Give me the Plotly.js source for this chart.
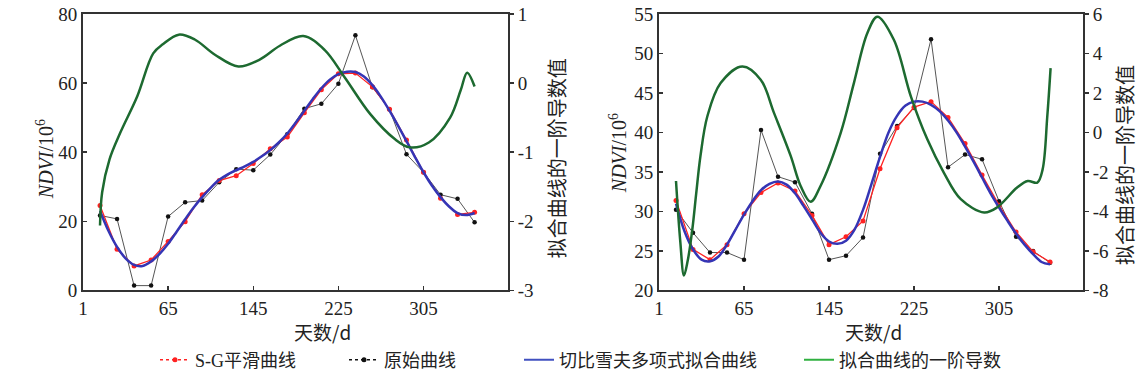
<!DOCTYPE html>
<html><head><meta charset="utf-8">
<script src="https://cdn.plot.ly/plotly-3.0.1.min.js"></script>
<style>html,body{margin:0;padding:0;background:#fff}#chart{width:1147px;height:379px}</style>
</head><body><div id="chart"></div>
<script>
// ---------- data: left panel ----------
const daysObs = [1,17,33,49,65,81,97,113,129,145,161,177,193,209,225,241,257,273,289,305,321,337,353];
const leftRaw = [21.7,20.7,1.4,1.4,21.4,25.5,26.0,31.3,35.1,34.8,39.3,45.2,52.6,54.0,59.8,73.8,58.8,52.4,39.4,34.2,27.7,26.5,19.7];
const leftSG  = [24.6,11.9,7.1,8.8,14.2,19.9,27.7,31.8,33.2,36.7,41.0,44.4,51.4,58.1,62.7,62.9,58.9,52.4,43.5,34.2,26.7,22.0,22.6];
const daysFit = [1,9,17,25,33,41,49,57,65,73,81,89,97,105,113,121,129,137,145,153,161,169,177,185,193,201,209,217,225,233,241,249,257,265,273,281,289,297,305,313,321,329,337,345,353];
const leftFit = [23.0,17.2,12.6,9.3,7.4,7.1,8.4,10.6,13.5,17.0,20.6,24.0,27.0,29.7,32.0,33.6,34.8,35.9,37.2,38.8,40.6,42.8,45.4,48.6,52.0,55.4,58.5,61.0,62.6,63.3,63.2,61.9,59.4,56.0,52.0,47.7,43.2,38.6,34.2,30.3,27.0,24.3,22.4,21.8,22.4];
const leftDerivDays = [1,3,10,20,36,51,60,75,90,109,131,151,170,192,212,231,255,278,292,310,330,340,346,353];
const leftDeriv = [-2.06,-1.58,-1.10,-0.72,-0.19,0.43,0.56,0.70,0.63,0.41,0.24,0.34,0.54,0.68,0.48,0.08,-0.45,-0.81,-0.93,-0.86,-0.50,-0.10,0.15,-0.05];

// ---------- data: right panel ----------
const rightRaw = [30.2,27.3,24.8,24.8,23.9,40.3,34.4,33.7,29.7,23.9,24.4,26.7,37.3,40.8,43.1,51.8,35.6,37.2,36.6,31.3,26.8,25.0,23.5];
const rightSG  = [31.4,25.2,23.9,25.8,29.7,32.4,33.6,32.6,29.5,25.8,26.8,28.8,35.4,40.6,43.2,43.9,41.9,38.6,34.6,30.8,27.4,24.9,23.6];
const rightFit = [31.0,27.5,25.2,23.9,23.7,24.3,25.8,27.7,29.6,31.3,32.7,33.5,33.8,33.4,32.3,30.7,29.0,27.3,26.2,25.9,26.3,27.7,30.2,33.5,36.9,40.0,42.1,43.4,43.9,43.9,43.5,42.7,41.5,40.0,38.2,36.3,34.3,32.3,30.5,28.8,27.2,25.8,24.6,23.6,23.3];
const rightDerivDays = [1,5,8.5,12,16.4,20,24,30.5,43,63.5,80.7,93.2,109,118.3,127.7,137,156,168.4,181,190.5,206,222,237.5,253,269,291,303,322,332,341,346,350.4,353.5];
const rightDeriv = [-2.46,-5.5,-7.24,-6.5,-4.89,-3.1,-1.2,0.82,2.50,3.34,2.67,0.99,-1.20,-2.71,-3.51,-2.71,-0.02,2.50,5.02,5.86,4.69,1.83,-0.35,-2.03,-3.38,-4.05,-3.80,-2.79,-2.46,-2.54,-1.87,0.82,3.26];

// ---------- ticks / labels ----------
const xTickVals = [-15,65,145,225,305];
const xTickText = ['1','65','145','225','305'];
const y2TickVals = [-3,-2,-1,0,1];
const y2TickText = ['-3','-2','-1','0','1'];
const y4TickVals = [-8,-6,-4,-2,0,2,4,6];
const y4TickText = ['-8','-6','-4','-2','0','2','4','6'];
const seriesNames = ['S-G平滑曲线','原始曲线','切比雪夫多项式拟合曲线','拟合曲线的一阶导数'];
const xTitle = '天数/d';
const yTitle = '<i>NDVI</i>/10<sup>6</sup>';
const y2Title = '拟合曲线的一阶导数值';

const RED='#ff2222', BLK='#111', BLUE='#3535b5', GREEN='#1d6a30';

function panel(xa, ya, ya2, raw, sg, fit, dd, dv){
  return [
    {x:dd, y:dv, xaxis:xa, yaxis:ya2, mode:'lines', line:{color:GREEN,width:2.5,shape:'spline'}, showlegend:false, hoverinfo:'skip'},
    {x:daysObs, y:raw, xaxis:xa, yaxis:ya, mode:'lines+markers', line:{color:'#555',width:1}, marker:{color:BLK,size:4.5}, showlegend:false},
    {x:daysObs, y:sg, xaxis:xa, yaxis:ya, mode:'lines+markers', line:{color:RED,width:1.3}, marker:{color:RED,size:5}, showlegend:false},
    {x:daysFit, y:fit, xaxis:xa, yaxis:ya, mode:'lines', line:{color:BLUE,width:2.5,shape:'spline'}, showlegend:false}
  ];
}
const traces = [].concat(
  panel('x','y','y2',leftRaw,leftSG,leftFit,leftDerivDays,leftDeriv),
  panel('x2','y3','y4',rightRaw,rightSG,rightFit,rightDerivDays,rightDeriv),
  [
    {x:[null],y:[null],name:seriesNames[0],mode:'lines+markers',line:{color:RED,width:1.5,dash:'dot'},marker:{color:RED,size:5},legend:'legend'},
    {x:[null],y:[null],name:seriesNames[1],mode:'lines+markers',line:{color:BLK,width:1.5,dash:'dot'},marker:{color:BLK,size:5},legend:'legend2'},
    {x:[null],y:[null],name:seriesNames[2],mode:'lines',line:{color:'#4050c0',width:2},legend:'legend3'},
    {x:[null],y:[null],name:seriesNames[3],mode:'lines',line:{color:'#30b040',width:2},legend:'legend4'}
  ]
);

const TF = {family:'Liberation Serif, Times New Roman, serif', size:19, color:'#222'};
const AX = {showline:true, linecolor:'#333', linewidth:2, showgrid:false, zeroline:false, tickfont:TF, ticklen:4, tickwidth:1.5, tickcolor:'#333'};
const yDom = [1-292/379, 1-14/379];
const LF = {family:'Liberation Serif, Noto Sans CJK SC, serif', size:18, color:'#222'};
function leg(x){ return {orientation:'h', x:x, y:1-362/379, xanchor:'left', yanchor:'middle', font:LF, bgcolor:'rgba(0,0,0,0)', borderwidth:0}; }
const CJK = {family:'Noto Sans CJK SC, sans-serif', size:20, color:'#222'};
const CJKX = {family:'Noto Sans CJK SC, sans-serif', size:19, color:'#222'};
function ann(text, px, py, angle, font){
  return {text:text, xref:'paper', yref:'paper', x:px/1147, y:1-py/379, xanchor:'center', yanchor:'middle', textangle:angle, showarrow:false, font:font};
}
const SF = {family:'Liberation Serif, serif', size:20, color:'#222'};
const layout = {
  width:1147, height:379, margin:{l:0,r:0,t:0,b:0},
  paper_bgcolor:'#fff', plot_bgcolor:'#fff', showlegend:true,
  xaxis:Object.assign({}, AX, {domain:[83/1147,508/1147], range:[-15,384.4], tickvals:xTickVals, ticktext:xTickText, ticks:'inside', mirror:true, anchor:'y'}),
  yaxis:Object.assign({}, AX, {domain:yDom, range:[0,80], tickvals:[0,20,40,60,80], ticks:'inside', anchor:'x'}),
  yaxis2:Object.assign({}, AX, {overlaying:'y', side:'right', anchor:'x', range:[-3,1], tickvals:y2TickVals, ticktext:y2TickText, ticks:'outside'}),
  xaxis2:Object.assign({}, AX, {domain:[659/1147,1083/1147], range:[-15,384], tickvals:xTickVals, ticktext:xTickText, ticks:'inside', mirror:true, anchor:'y3'}),
  yaxis3:Object.assign({}, AX, {domain:yDom, range:[20,55], tickvals:[20,25,30,35,40,45,50,55], ticks:'inside', anchor:'x2'}),
  yaxis4:Object.assign({}, AX, {overlaying:'y3', side:'right', anchor:'x2', range:[-8,6], tickvals:y4TickVals, ticktext:y4TickText, ticks:'outside'}),
  legend:leg(155/1147), legend2:leg(344/1147), legend3:leg(519/1147), legend4:leg(799/1147),
  annotations:[
    ann(yTitle, 45, 160, -90, SF),
    ann(yTitle, 618, 154, -90, SF),
    ann(y2Title, 556, 159, -90, CJK),
    ann(y2Title, 1124, 166, -90, CJK),
    ann(xTitle, 322, 333, 0, CJKX),
    ann(xTitle, 873, 333, 0, CJKX)
  ]
};
Plotly.newPlot('chart', traces, layout, {displayModeBar:false, staticPlot:true});
</script></body></html>
